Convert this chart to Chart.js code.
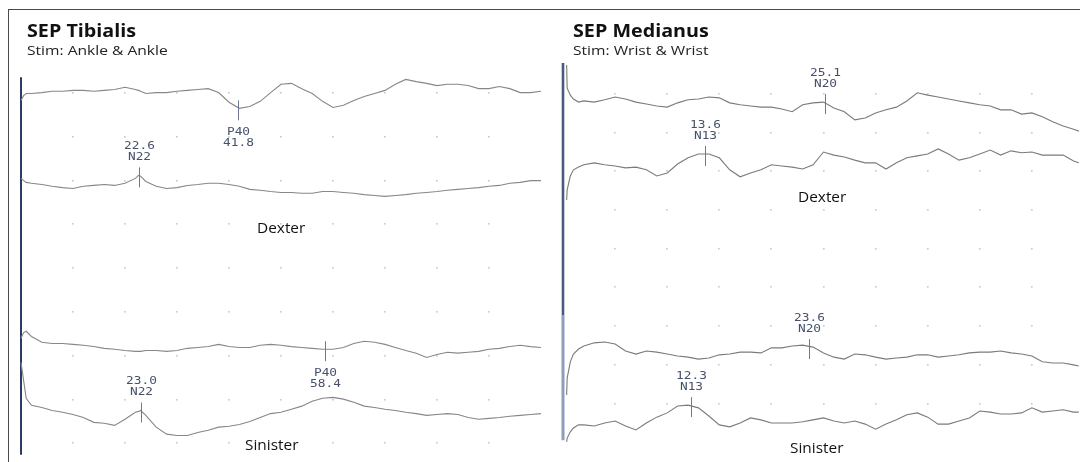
<!DOCTYPE html>
<html><head><meta charset="utf-8">
<title>SEP Tibialis / SEP Medianus</title>
<script src="https://cdn.jsdelivr.net/npm/chart.js@4.4.1/dist/chart.umd.min.js"></script>
<style>
html,body{margin:0;padding:0;background:#fff}
body{width:1080px;height:462px;overflow:hidden;position:relative;font-family:"Open Sans",sans-serif;color:#111}
#frame{position:absolute;left:8px;top:9px;width:1100px;height:480px;border-top:1px solid #4a4a4a;border-left:1px solid #4a4a4a}
canvas{position:absolute;top:0}
#cvL{left:0}
#cvR{left:552px}
.ttl,.sub,.side{position:absolute;white-space:nowrap;transform-origin:0 0}
.ttl{font-weight:700;font-size:17px;line-height:17px;transform:scaleX(1.16)}
.sub{font-size:13px;line-height:13px;color:#222;transform:scaleX(1.2)}
.side{font-size:14px;line-height:15px;transform:scaleX(1.1)}
</style></head>
<body>
<div id="frame"></div>
<canvas id="cvL" width="556" height="462"></canvas>
<canvas id="cvR" width="533" height="462"></canvas>
<div class="ttl" style="left:27px;top:22px">SEP Tibialis</div>
<div class="sub" style="left:27px;top:44px">Stim: Ankle &amp; Ankle</div>
<div class="ttl" style="left:573px;top:22px">SEP Medianus</div>
<div class="sub" style="left:573px;top:44px">Stim: Wrist &amp; Wrist</div>
<div class="side" style="left:257px;top:220px">Dexter</div>
<div class="side" style="left:245px;top:437px">Sinister</div>
<div class="side" style="left:798px;top:189px">Dexter</div>
<div class="side" style="left:790px;top:440px">Sinister</div>
<script>
/* ---------------- data : latency in ms, amplitude in 1/10 division ---------------- */
// SEP Tibialis (0-100 ms)
const L_MS=[0,0.5,1,2,4,6,8,10,12,14,16,18,20,22,22.6,23,24,26,28,30,32,34,36,38,40,42,44,46,48,50,52,54,56,58,60,62,64,66,68,70,72,74,76,78,80,82,84,86,88,90,92,94,96,98,100];
const L_DEX_1=[78.3,79.4,79.9,79.9,80.1,80.4,80.4,80.6,80.6,80.4,80.6,80.8,81.3,80.8,80.6,80.4,79.9,80.1,80.1,80.4,80.6,80.8,81.0,80.1,77.9,76.5,76.9,78.1,80.1,82.0,82.2,81.0,79.9,78.1,76.7,77.2,78.3,79.2,79.9,80.6,82.0,83.1,82.6,82.2,81.7,82.0,82.0,81.7,81.0,81.0,81.5,81.0,80.1,80.1,80.4];
const L_DEX_2=[60.5,60.0,59.6,59.4,59.1,58.7,58.4,58.2,58.7,58.9,59.1,58.9,59.4,60.5,61.2,61.0,59.8,58.7,58.2,58.4,58.9,59.1,59.4,59.4,59.1,58.7,58.0,57.8,57.5,57.3,57.3,57.1,57.1,57.5,57.5,57.3,57.1,56.8,56.6,56.4,56.6,56.8,57.1,57.3,57.5,57.8,58.0,58.2,58.4,58.7,58.9,59.4,59.6,60.0,60.0];
const L_SIN_1=[24.0,25.3,25.6,24.4,23.1,22.8,22.8,22.6,22.4,22.1,21.7,21.5,21.2,21.0,21.0,21.0,21.2,21.2,21.0,21.2,21.7,21.9,22.1,22.6,22.1,21.9,21.9,22.4,22.6,22.4,22.1,21.9,21.7,21.5,21.5,21.9,22.8,23.3,23.1,22.6,21.9,21.2,20.6,19.6,20.3,20.8,20.6,20.8,21.0,21.5,21.7,22.1,22.4,22.1,21.9];
const L_SIN_2=[18.5,14.4,10.3,8.7,8.2,7.5,7.1,6.6,5.9,4.8,4.6,4.1,5.5,7.1,7.3,7.5,6.4,3.7,2.1,1.8,1.8,2.5,3.0,3.7,3.9,4.3,5.0,5.9,6.8,7.1,7.8,8.5,9.6,10.3,10.5,10.1,9.4,8.5,8.2,7.8,7.5,7.1,6.8,6.4,6.6,6.8,6.6,5.9,5.5,5.7,5.9,6.2,6.4,6.6,6.8];
const L_PEAK_NAME=["P40","N22","P40","N22"];
const L_PEAK_MS=[41.8,22.6,58.4,23.0];
const L_PEAK_BELOW=[true,false,true,false];
const L_STIM=[-2.6,83.6];
const L_DOT_MS=[10,20,30,40,50,60,70,80,90];

// SEP Medianus (0-50 ms)
const R_MS=[0.35,0.4,0.7,1,1.5,2,3,4,5,6,7,8,9,10,11,12,13,14,15,16,17,18,19,20,21,22,23,24,25,26,27,28,29,30,31,32,33,34,35,36,37,38,39,40,41,42,43,44,45,46,47,48,49,49.5];
const R_DEX_1=[87.5,81.5,79.7,78.7,77.9,78.2,77.9,78.5,79.2,78.7,77.9,77.4,76.9,76.6,77.7,78.5,78.7,79.2,79.0,77.7,77.2,76.9,76.6,76.6,76.1,75.4,77.2,77.7,77.9,76.4,75.4,73.3,73.8,75.1,75.9,76.6,78.2,80.3,79.7,79.2,78.7,78.2,77.7,77.2,76.9,75.9,75.9,74.8,75.1,74.1,72.8,71.7,70.9,70.4];
const R_DEX_2=[52.6,55.2,58.8,60.4,61.1,61.7,62.2,61.7,61.4,60.9,61.1,60.4,58.8,59.6,61.9,63.5,64.5,64.5,63.5,60.4,58.6,59.6,60.4,61.7,61.4,61.1,60.6,61.7,65.0,64.2,63.7,62.9,62.2,62.2,60.6,62.2,63.5,64.0,64.5,65.8,64.5,62.9,63.5,64.5,65.5,64.2,65.3,64.8,65.0,64.2,64.2,64.2,62.7,62.2];
const R_SIN_1=[2.2,6.6,10.8,12.8,14.1,14.9,15.7,15.9,15.4,13.6,12.8,13.6,13.3,12.8,12.3,12.0,11.5,11.8,12.6,12.8,13.3,13.3,13.1,14.4,14.4,14.9,15.1,14.6,13.1,12.0,11.5,12.8,12.6,12.0,11.5,11.8,12.0,12.6,12.6,12.0,12.3,12.6,13.1,13.3,13.3,13.6,13.1,12.8,12.3,10.8,10.5,10.5,10.0,9.7];
const R_SIN_2=[-9.9,-8.9,-7.3,-6.3,-5.5,-5.5,-5.8,-5.0,-4.5,-5.8,-6.8,-5.0,-3.5,-2.4,-0.6,-0.4,-1.1,-3.2,-5.5,-6.0,-5.0,-3.7,-4.2,-5.0,-5.0,-5.0,-4.7,-4.2,-3.7,-4.5,-5.0,-4.5,-5.3,-6.6,-5.3,-4.2,-2.9,-2.4,-3.5,-5.3,-5.3,-4.5,-3.7,-1.9,-2.2,-2.7,-2.7,-2.4,-1.1,-2.2,-1.9,-1.6,-2.2,-2.2];
const R_PEAK_NAME=["N20","N13","N20","N13"];
const R_PEAK_MS=[25.1,13.6,23.6,12.3];
const R_PEAK_BELOW=[false,false,false,false];
const R_STIM=[-9.5,88];
const R_STIM_DARK=[22.9,88];
const R_DOT_MS=[5,10,15,20,25,30,35,40,45];

const DOT_ROWS=[0,10,20,30,40,50,60,70,80];

/* ---------------- helpers ---------------- */
const pts=(ms,v)=>ms.map((t,i)=>({x:t,y:v[i]}));
const trace=(ms,v,col)=>({data:pts(ms,v),borderColor:col,borderWidth:1.1,pointRadius:0,tension:0,clip:false});
const vline=(t,span,col,w)=>({data:[{x:t,y:span[0]},{x:t,y:span[1]}],borderColor:col,borderWidth:w,pointRadius:0,clip:false});

function dots(xs){
 return {id:'dots',beforeDatasetsDraw(c){
  const {ctx,scales:{x,y}}=c; ctx.save(); ctx.fillStyle='#c8c8c8';
  xs.forEach(a=>DOT_ROWS.forEach(b=>{ctx.fillRect(Math.round(x.getPixelForValue(a))-1,Math.round(y.getPixelForValue(b))-1,1.6,1.6);}));
  ctx.restore();}};
}
// instrument font is a stretched fixed-pitch sans
function lbl(ctx,s,x,y){ctx.save();ctx.translate(x,y);ctx.scale(1.22,1);ctx.fillText(s,0,0);ctx.restore();}
function peaks(ms,traces,names,lat,below){
 return {id:'peaks',afterDatasetsDraw(c){
  const {ctx,scales:{x,y}}=c; ctx.save();
  names.forEach((n,i)=>{
   let k=0; ms.forEach((t,j)=>{if(Math.abs(t-lat[i])<Math.abs(ms[k]-lat[i]))k=j;});
   const px=Math.round(x.getPixelForValue(lat[i]))+0.5, py=y.getPixelForValue(traces[i][k]);
   ctx.strokeStyle='#6f7891'; ctx.lineWidth=1;
   ctx.beginPath(); ctx.moveTo(px,py-8); ctx.lineTo(px,py+12); ctx.stroke();
   ctx.fillStyle='#46506b'; ctx.font='10.5px "DejaVu Sans Mono", monospace';
   ctx.textAlign='center'; ctx.textBaseline='middle';
   const v=lat[i].toFixed(1);
   if(below[i]){lbl(ctx,n,px,py+24);lbl(ctx,v,px,py+35);}
   else{lbl(ctx,v,px,py-29);lbl(ctx,n,px,py-18);}
  });
  ctx.restore();}};
}
function opts(xmax,ymin,ymax,pad){
 return {responsive:false,animation:false,devicePixelRatio:1,layout:{padding:pad},
  plugins:{legend:{display:false},tooltip:{enabled:false},title:{display:false}},
  scales:{x:{type:'linear',min:0,max:xmax,display:false},y:{min:ymin,max:ymax,display:false}}};
}

/* ---------------- charts ---------------- */
const lTr=[L_DEX_1,L_DEX_2,L_SIN_1,L_SIN_2];
new Chart(document.getElementById('cvL'),{type:'line',
 data:{datasets:[...lTr.map(v=>trace(L_MS,v,'#878787')),vline(0,L_STIM,'#2e3a66',2)]},
 options:opts(100,-3,84,{left:21,right:15,top:75.5,bottom:5.5}),
 plugins:[dots(L_DOT_MS),peaks(L_MS,lTr,L_PEAK_NAME,L_PEAK_MS,L_PEAK_BELOW)]});

const rTr=[R_DEX_1,R_DEX_2,R_SIN_1,R_SIN_2];
new Chart(document.getElementById('cvR'),{type:'line',
 data:{datasets:[...rTr.map(v=>trace(R_MS,v,'#7b7b7b')),vline(0,R_STIM_DARK,'#2a3358',1.3),vline(0,R_STIM,'#8f9dba',3)]},
 options:opts(50,-10,88,{left:11,right:1,top:63,bottom:19.7}),
 plugins:[dots(R_DOT_MS),peaks(R_MS,rTr,R_PEAK_NAME,R_PEAK_MS,R_PEAK_BELOW)]});
</script>
</body></html>
